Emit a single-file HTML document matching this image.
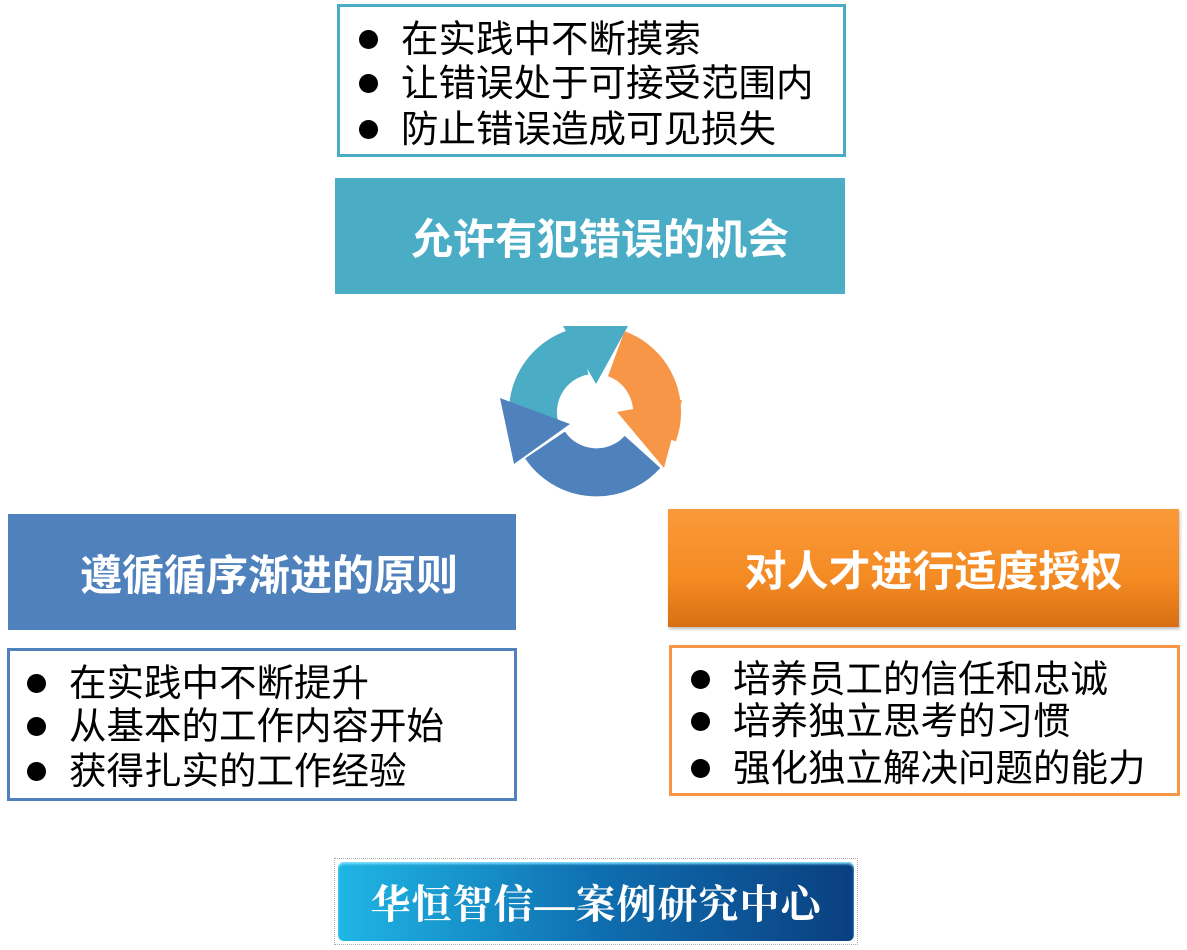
<!DOCTYPE html>
<html><head><meta charset="utf-8"><style>
body{margin:0;width:1187px;height:950px;background:#fff;position:relative;overflow:hidden;font-family:"Liberation Sans","Noto Sans CJK SC",sans-serif}
.a{position:absolute;box-sizing:border-box}
.list{background:#fff;border:3px solid}
.list div{position:absolute;font-size:37.5px;color:#000;white-space:nowrap;line-height:42px}
.list div:before{content:"";position:absolute;width:19px;height:19px;border-radius:50%;background:#000;left:-42px;top:12px}
.t{color:#fff;font-weight:bold;font-size:42px;display:flex;align-items:center;justify-content:center}
</style></head><body>
<div class="a list" style="left:337px;top:4px;width:509px;height:153px;border-color:#4bacc6">
<div style="left:61px;top:11px">在实践中不断摸索</div>
<div style="left:61px;top:55px">让错误处于可接受范围内</div>
<div style="left:61px;top:101px">防止错误造成可见损失</div>
</div>
<div class="a t" style="left:335px;top:178px;width:510px;height:116px;background:#4bacc6;padding-left:20px">允许有犯错误的机会</div>
<div class="a t" style="left:8px;top:514px;width:508px;height:116px;background:#4f81bd;padding-left:14px">遵循循序渐进的原则</div>
<div class="a t" style="left:668px;top:509px;width:511px;height:118px;background:linear-gradient(#fb9a3a,#f48a22 60%,#d86f14);box-shadow:1px 2px 3px #bbb;padding-left:20px">对人才进行适度授权</div>
<div class="a list" style="left:7px;top:648px;width:510px;height:153px;border-color:#4f81bd">
<div style="left:59px;top:11px">在实践中不断提升</div>
<div style="left:59px;top:54px">从基本的工作内容开始</div>
<div style="left:59px;top:99px">获得扎实的工作经验</div>
</div>
<div class="a list" style="left:669px;top:645px;width:511px;height:151px;border-color:#f79646">
<div style="left:61px;top:10px">培养员工的信任和忠诚</div>
<div style="left:61px;top:52px">培养独立思考的习惯</div>
<div style="left:61px;top:99px">强化独立解决问题的能力</div>
</div>
<svg class="a" style="left:0;top:0" width="1187" height="950">
<path d="M536.7 433.2 A62 62 0 0 1 584.2 350.9" fill="none" stroke="#4bacc6" stroke-width="48"/>
<path d="M642.5 451.9 A62 62 0 0 1 545 445" fill="none" stroke="#4f81bd" stroke-width="48"/>
<polygon points="500,398 570,424 514,464" fill="#4f81bd"/>
<polygon points="563,326 628,326 596,384" fill="#4bacc6"/>
<path d="M616.2 353.7 A62 62 0 0 1 653.3 433.2" fill="none" stroke="#f79646" stroke-width="48"/>
<polygon points="682,400 617,412 664,468" fill="#f79646"/>
</svg>
<div class="a" style="left:334px;top:858px;width:524px;height:87px;border:1px dotted #aaa;padding:3px">
<div style="width:100%;height:100%;border-radius:6px;background:linear-gradient(90deg,#1fb6e4,#0f6fb0 50%,#0a3f80);box-shadow:inset 0 2px 2px #7fe0ff;color:#fff;font-family:'Liberation Serif','Noto Serif CJK SC',serif;font-weight:bold;font-size:40px;display:flex;align-items:center;justify-content:center;letter-spacing:1px">华恒智信—案例研究中心</div>
</div>
</body></html>
